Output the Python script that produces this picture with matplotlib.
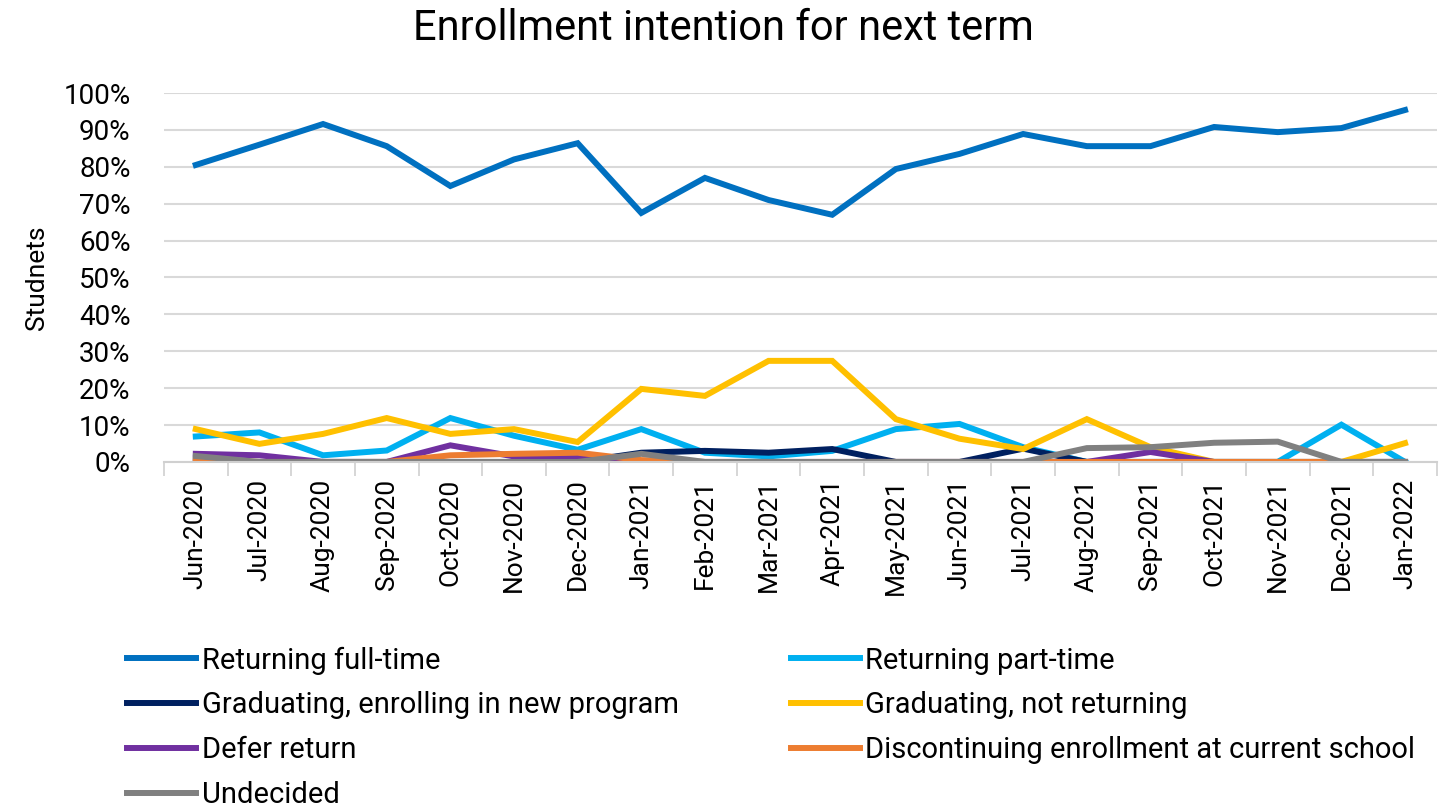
import matplotlib.pyplot as plt
import numpy as np

plt.rcParams['font.family'] = ['Roboto', 'DejaVu Sans']

months = ['Jun-2020', 'Jul-2020', 'Aug-2020', 'Sep-2020', 'Oct-2020', 'Nov-2020', 'Dec-2020',
          'Jan-2021', 'Feb-2021', 'Mar-2021', 'Apr-2021', 'May-2021', 'Jun-2021', 'Jul-2021',
          'Aug-2021', 'Sep-2021', 'Oct-2021', 'Nov-2021', 'Dec-2021', 'Jan-2022']

full_time = [80.5, 86, 91.6, 85.6, 74.8, 82, 86.4, 67.5, 77, 71, 67, 79.4, 83.5, 88.9,
             85.6, 85.6, 90.8, 89.4, 90.5, 95.4]
part_time = [6.9, 8.0, 1.8, 3.1, 11.9, 7.1, 3.3, 8.9, 2.5, 1.5, 3.0, 8.9, 10.3, 4.0,
             0, 0, 0, 0, 10.1, 0]
grad_new = [0, 0, 0, 0, 0, 0, 0, 2.5, 3.0, 2.5, 3.5, 0, 0, 3.6,
            0, 0, 0, 0, 0, 0]
grad_not = [8.9, 4.9, 7.6, 11.9, 7.6, 8.9, 5.4, 19.8, 17.9, 27.4, 27.4, 11.6, 6.3, 3.5,
            11.6, 4.0, 0, 0, 0, 5.1]
defer = [2.2, 1.8, 0, 0, 4.5, 1.5, 1.5, 0, 0, 0, 0, 0, 0, 0,
         0, 2.7, 0, 0, 0, 0]
discontinue = [0.5, 0, 0, 0, 1.8, 2.2, 2.5, 0.5, 0, 0, 0, 0, 0, 0,
               0, 0, 0, 0, 0, 0]
undecided = [1.6, 0, 0, 0, 0, 0, 0, 2.2, 0, 0, 0, 0, 0, 0,
             3.75, 4.0, 5.2, 5.5, 0, 0]

series = [
    ('Returning full-time', full_time, '#0070C0'),
    ('Returning part-time', part_time, '#00B0F0'),
    ('Graduating, enrolling in new program', grad_new, '#002060'),
    ('Graduating, not returning', grad_not, '#FFC000'),
    ('Defer return', defer, '#7030A0'),
    ('Discontinuing enrollment at current school', discontinue, '#ED7D31'),
    ('Undecided', undecided, '#808080'),
]

fig = plt.figure(figsize=(14.47, 8.09), dpi=100)
ax = fig.add_axes([0.1133, 0.429, 0.8797, 0.456])

x = np.arange(len(months))
lines = {}
for name, vals, col in series:
    lines[name], = ax.plot(x, vals, color=col, linewidth=4.3, label=name, solid_joinstyle='miter')

ax.set_xlim(-0.5, len(months) - 0.5)
ax.set_ylim(0, 100)
ax.set_yticks(np.arange(0, 101, 10))
ax.set_yticklabels([f'{v}%' for v in range(0, 101, 10)], fontsize=20)
ax.set_xticks(x)
ax.set_xticklabels(months, rotation=90, fontsize=19)
ax.set_xticks(np.arange(-0.5, len(months), 1), minor=True)
ax.tick_params(axis='x', which='major', length=0, pad=12)
ax.tick_params(axis='x', which='minor', length=10, color='#d0d0d0', width=1.2)
ax.tick_params(axis='y', length=0, pad=24)
ax.grid(axis='y', color='#d9d9d9', linewidth=1.5)
ax.set_axisbelow(True)
for s in ['top', 'right', 'left']:
    ax.spines[s].set_visible(False)
ax.spines['bottom'].set_color('#d0d0d0')
ax.spines['bottom'].set_linewidth(1.5)

ax.set_ylabel('Studnets', fontsize=19, labelpad=10)
fig.suptitle('Enrollment intention for next term', fontsize=30, y=0.99)

# legend filled column by column, so reorder to get the reference's rows
order = ['Returning full-time', 'Graduating, enrolling in new program', 'Defer return', 'Undecided',
         'Returning part-time', 'Graduating, not returning', 'Discontinuing enrollment at current school']
fig.legend([lines[n] for n in order], order, ncol=2, loc='upper left',
           bbox_to_anchor=(0.08, 0.2155), frameon=False, fontsize=21,
           handlelength=2.35, handletextpad=0.2, labelspacing=0.58, columnspacing=3.85,
           borderaxespad=0)

fig.savefig('out.png', dpi=100)
